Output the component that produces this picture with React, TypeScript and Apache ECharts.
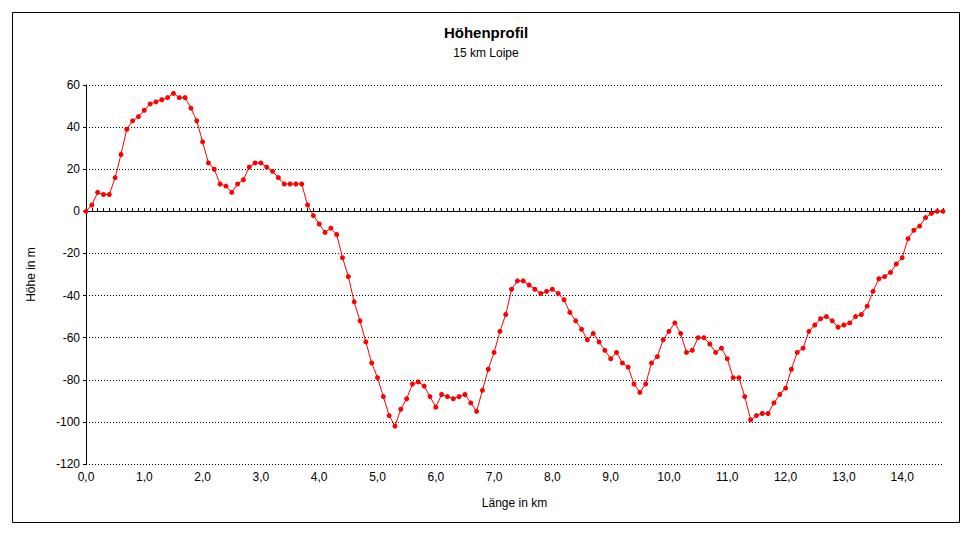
import React, { useEffect, useRef } from "react";
import * as echarts from "echarts";

// Distance along the trail (km)
const distanceKm: number[] = [
  0.0, 0.1, 0.2, 0.3, 0.4, 0.5, 0.6, 0.7, 0.8, 0.9,
  1.0, 1.1, 1.2, 1.3, 1.4, 1.5, 1.6, 1.7, 1.8, 1.9,
  2.0, 2.1, 2.2, 2.3, 2.4, 2.5, 2.6, 2.7, 2.8, 2.9,
  3.0, 3.1, 3.2, 3.3, 3.4, 3.5, 3.6, 3.7, 3.8, 3.9,
  4.0, 4.1, 4.2, 4.3, 4.4, 4.5, 4.6, 4.7, 4.8, 4.9,
  5.0, 5.1, 5.2, 5.3, 5.4, 5.5, 5.6, 5.7, 5.8, 5.9,
  6.0, 6.1, 6.2, 6.3, 6.4, 6.5, 6.6, 6.7, 6.8, 6.9,
  7.0, 7.1, 7.2, 7.3, 7.4, 7.5, 7.6, 7.7, 7.8, 7.9,
  8.0, 8.1, 8.2, 8.3, 8.4, 8.5, 8.6, 8.7, 8.8, 8.9,
  9.0, 9.1, 9.2, 9.3, 9.4, 9.5, 9.6, 9.7, 9.8, 9.9,
  10.0, 10.1, 10.2, 10.3, 10.4, 10.5, 10.6, 10.7, 10.8, 10.9,
  11.0, 11.1, 11.2, 11.3, 11.4, 11.5, 11.6, 11.7, 11.8, 11.9,
  12.0, 12.1, 12.2, 12.3, 12.4, 12.5, 12.6, 12.7, 12.8, 12.9,
  13.0, 13.1, 13.2, 13.3, 13.4, 13.5, 13.6, 13.7, 13.8, 13.9,
  14.0, 14.1, 14.2, 14.3, 14.4, 14.5, 14.6, 14.7,
];

// Elevation relative to start (m)
const elevationM: number[] = [
  0, 3, 9, 8, 8, 16, 27, 39, 43, 45,
  48, 51, 52, 53, 54, 56, 54, 54, 49, 43,
  33, 23, 20, 13, 12, 9, 13, 15, 21, 23,
  23, 21, 19, 16, 13, 13, 13, 13, 3, -2,
  -6, -10, -8, -11, -22, -31, -43, -52, -62, -72,
  -79, -88, -97, -102, -94, -89, -82, -81, -83, -88,
  -93, -87, -88, -89, -88, -87, -91, -95, -85, -75,
  -67, -57, -49, -37, -33, -33, -35, -37, -39, -38,
  -37, -39, -42, -48, -52, -56, -61, -58, -62, -66,
  -70, -67, -72, -74, -82, -86, -82, -72, -69, -61,
  -57, -53, -58, -67, -66, -60, -60, -63, -67, -65,
  -70, -79, -79, -88, -99, -97, -96, -96, -91, -87,
  -84, -75, -67, -65, -57, -54, -51, -50, -52, -55,
  -54, -53, -50, -49, -45, -38, -32, -31, -29, -25,
  -22, -13, -9, -7, -3, -1, 0, 0,
];

const Y_MIN = -120;
const Y_MAX = 60;
const Y_STEP = 20;

const TITLE = "Höhenprofil";
const SUBTITLE = "15 km Loipe";
const X_NAME = "Länge in km";
const Y_NAME = "Höhe in m";

const FONT = '"Liberation Sans", Arial, Helvetica, sans-serif';

export default function App() {
  const ref = useRef<HTMLDivElement>(null);

  useEffect(() => {
    if (!ref.current) return;
    const chart = echarts.init(ref.current, undefined, { renderer: "svg" });
    const cats = distanceKm.map((d) => d.toFixed(1).replace(".", ","));
    const gridPos = { left: 86, right: 29, top: 85, bottom: 72 };

    chart.setOption({
      animation: false,
      backgroundColor: "#ffffff",
      title: [
        {
          text: TITLE,
          left: "center",
          top: 20,
          textStyle: { fontFamily: FONT, fontSize: 15, fontWeight: "bold", color: "#000" },
        },
        {
          text: SUBTITLE,
          left: "center",
          top: 42,
          textStyle: { fontFamily: FONT, fontSize: 12, fontWeight: "normal", color: "#000" },
        },
      ],
      grid: [
        { ...gridPos, containLabel: false },
        { ...gridPos, containLabel: false },
      ],
      xAxis: [
        {
          type: "category",
          gridIndex: 0,
          data: cats,
          boundaryGap: false,
          position: "bottom",
          axisLine: { show: false, onZero: false },
          axisTick: { show: false },
          axisLabel: {
            interval: 9,
            margin: 7,
            color: "#000",
            fontSize: 12,
            fontFamily: FONT,
          },
          splitLine: { show: false },
          name: X_NAME,
          nameLocation: "middle",
          nameGap: 33,
          nameTextStyle: { fontFamily: FONT, fontSize: 12, color: "#000" },
        },
        {
          type: "category",
          gridIndex: 0,
          data: cats,
          boundaryGap: false,
          axisLine: { show: true, onZero: true, lineStyle: { color: "#000", width: 1 } },
          axisTick: { show: true, interval: 0, length: 3, inside: false, lineStyle: { color: "#000", width: 1 } },
          axisLabel: { show: false },
          splitLine: { show: false },
        },
        {
          type: "category",
          gridIndex: 1,
          data: cats,
          boundaryGap: false,
          axisLine: { show: false, onZero: true },
          axisTick: { show: true, interval: 0, length: 3, inside: true, lineStyle: { color: "#000", width: 1 } },
          axisLabel: { show: false },
          splitLine: { show: false },
        },
      ],
      yAxis: [
        {
          type: "value",
          gridIndex: 0,
          min: Y_MIN,
          max: Y_MAX,
          interval: Y_STEP,
          axisLine: { show: true, lineStyle: { color: "#000", width: 1 } },
          axisTick: { show: true, length: 3, lineStyle: { color: "#000", width: 1 } },
          axisLabel: { margin: 6, color: "#000", fontSize: 12, fontFamily: FONT },
          splitLine: { show: true, lineStyle: { color: "#000", width: 1, type: [1, 2] } },
          name: Y_NAME,
          nameLocation: "middle",
          nameGap: 49,
          nameRotate: 90,
          nameTextStyle: { fontFamily: FONT, fontSize: 12, color: "#000" },
        },
        {
          type: "value",
          gridIndex: 1,
          min: Y_MIN,
          max: Y_MAX,
          interval: Y_STEP,
          axisLine: { show: false },
          axisTick: { show: false },
          axisLabel: { show: false },
          splitLine: { show: false },
        },
      ],
      series: [
        {
          type: "line",
          xAxisIndex: 0,
          yAxisIndex: 0,
          data: elevationM,
          symbol: "circle",
          symbolSize: 5,
          showSymbol: true,
          showAllSymbol: true,
          lineStyle: { color: "#ff0000", width: 1 },
          itemStyle: { color: "#ff0000" },
          z: 5,
        },
      ],
      graphic: [
        {
          type: "rect",
          silent: true,
          shape: { x: 12.5, y: 12.5, width: 947, height: 510 },
          style: { fill: "none", stroke: "#000", lineWidth: 1 },
        },
      ],
    });

    return () => chart.dispose();
  }, []);

  return (
    <div
      ref={ref}
      style={{ position: "absolute", left: 0, top: 0, width: 972, height: 536 }}
    />
  );
}
